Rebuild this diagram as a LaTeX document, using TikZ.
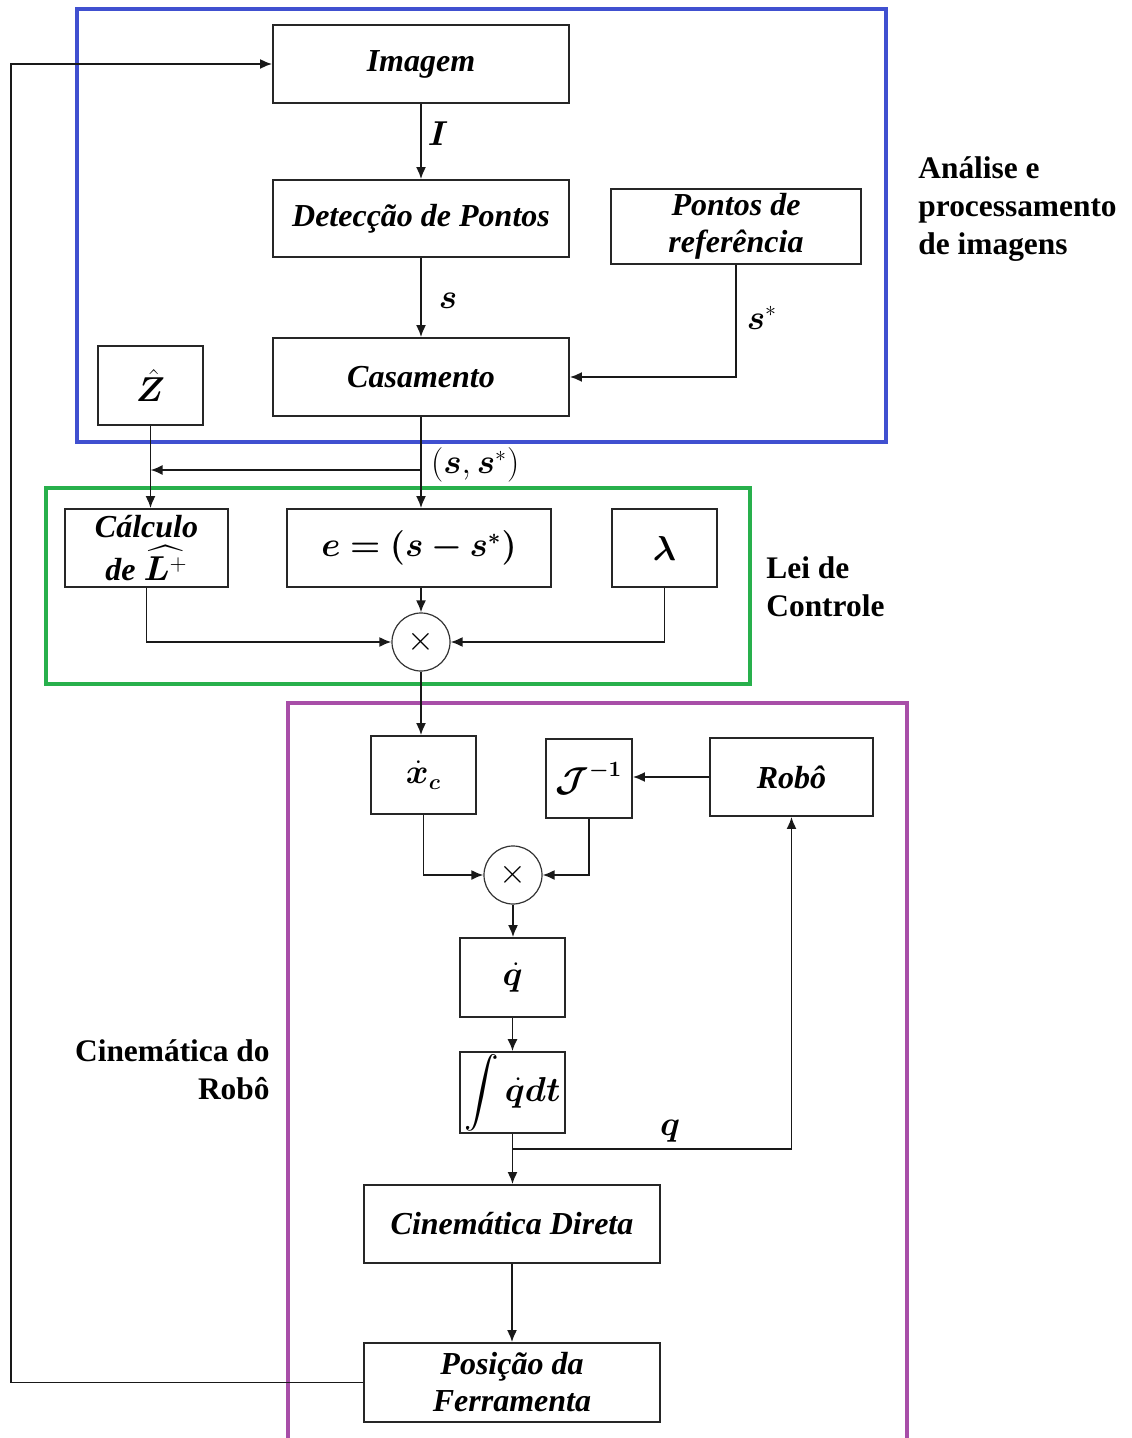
\documentclass[tikz,border=0pt]{standalone}
\usepackage{amsmath}
\usepackage{bm}
\usepackage{fontspec}
\setmainfont{Liberation Serif}
\usetikzlibrary{arrows.meta,calc}

\definecolor{frameblue}{RGB}{64,80,208}
\definecolor{framegreen}{RGB}{40,176,76}
\definecolor{framepurple}{RGB}{168,78,168}

\tikzset{
  block/.style={draw=black!85, line width=0.9pt, fill=white, inner sep=1pt,
    align=center, font=\fontsize{16}{18.5}\selectfont\bfseries\itshape},
  mult/.style={circle, draw=black!80, line width=0.6pt, minimum size=29pt, inner sep=0pt,
    font=\fontsize{16}{18}\selectfont},
  conn/.style={draw=black!90, line width=0.9pt, -{Latex[length=6pt,width=5pt]}},
  wire/.style={draw=black!90, line width=0.9pt},
  sig/.style={font=\fontsize{16}{18}\selectfont},
  region/.style={font=\fontsize{15.7}{19}\selectfont\bfseries, inner sep=0pt},
  frame/.style={line width=2pt}
}

\begin{document}
\begin{tikzpicture}[x=0.5pt,y=-0.5pt]
\useasboundingbox (0,0) rectangle (1131,1438);

% group frames
\draw[frame, frameblue] (77,9) rectangle (886,442);
\draw[frame, framegreen] (46,488) rectangle (750,684);
\draw[frame, framepurple] (288,1440) -- (288,703) -- (907,703) -- (907,1440);

% image analysis blocks
\node[block, minimum width=148pt, minimum height=39pt] (img) at (421,64) {Imagem};
\node[block, minimum width=148pt, minimum height=38.5pt] (det) at (421,218.5) {Detecção de Pontos};
\node[block, minimum width=125pt, minimum height=37.5pt] (ref) at (736,226.5) {Pontos de\\referência};
\node[block, minimum width=148pt, minimum height=39pt] (cas) at (421,377) {Casamento};
\node[block, minimum width=52.5pt, minimum height=39.5pt] (zh) at (150.5,385.5) {$\hat{\bm{Z}}$};

% control law blocks
\node[block, minimum width=81.5pt, minimum height=39pt] (calc) at (146.5,548) {Cálculo\\[3pt]de $\widehat{\bm{L}^{+}}$};
\node[block, minimum width=132pt, minimum height=39pt] (err) at (419,548) {$\bm{e = (s - s^{*})}$};
\node[block, minimum width=52.5pt, minimum height=39pt] (lam) at (664.5,548) {$\bm{\lambda}$};
\node[mult] (mul1) at (421,642) {$\times$};

% robot kinematics blocks
\node[block, minimum width=52.5pt, minimum height=39pt] (xc) at (423.5,775) {$\dot{\bm{x}}_{\bm{c}}$};
\node[block, minimum width=43pt, minimum height=39.5pt] (jinv) at (589,778.5) {$\bm{\mathcal{J}^{-1}}$};
\node[block, minimum width=81.5pt, minimum height=39pt] (robo) at (791.5,777) {Robô};
\node[mult] (mul2) at (513,875) {$\times$};
\node[block, minimum width=52.5pt, minimum height=39.5pt] (qd) at (512.5,977.5) {$\dot{\bm{q}}$};
\node[block, minimum width=52.5pt, minimum height=39.5pt] (intg) at (512.5,1092.5) {$\displaystyle\int\dot{\bm{q}}\bm{dt}$};
\node[block, minimum width=148pt, minimum height=39pt] (cd) at (512,1224) {Cinemática Direta};
\node[block, minimum width=148pt, minimum height=39.5pt] (pos) at (512,1382.5) {Posição da\\Ferramenta};

% junction points
\coordinate (br1) at (421,470);
\coordinate (br2) at (513,1149);
\coordinate (fb) at (11,1382.5);

% image processing chain
\draw[conn] (img.south) -- (det.north);
\node[sig] (lblI) at (438,134) {$\bm{I}$};
\draw[conn] (det.south) -- (cas.north);
\node[sig] (lbls) at (448,301) {$\bm{s}$};
\draw[conn] (ref.south) |- (cas.east);
\node[sig] (lblsr) at (762,318) {$\bm{s}^{*}$};
\draw[conn] (cas.south) -- (cas.south |- err.north);
\draw[conn] (br1) -- (br1 -| zh.south);
\node[sig, anchor=west] (lblpair) at (424,465) {$(\bm{s},\bm{s}^{*})$};
\draw[conn] (zh.south) -- (zh.south |- calc.north);

% control law
\draw[conn] (calc.south) |- (mul1.west);
\draw[conn] (mul1.north |- err.south) -- (mul1.north);
\draw[conn] (lam.south) |- (mul1.east);
\draw[conn] (mul1.south) -- (mul1.south |- xc.north);

% robot kinematics
\draw[conn] (xc.south) |- (mul2.west);
\draw[conn] (jinv.south) |- (mul2.east);
\draw[conn] (robo.west) -- (robo.west -| jinv.east);
\draw[conn] (mul2.south) -- (mul2.south |- qd.north);
\draw[conn] (qd.south) -- (intg.north);
\draw[conn] (intg.south) -- (intg.south |- cd.north);
\draw[conn] (br2) -| (robo.south);
\node[sig] (lblq) at (670,1131) {$\bm{q}$};
\draw[conn] (cd.south) -- (pos.north);

% tool position fed back to the image
\draw[wire] (pos.west) -- (fb);
\draw[conn] (fb) |- (img.west);

% group captions
\node[region, anchor=west, align=left] (capimg) at (918,209) {Análise e\\processamento\\de imagens};
\node[region, anchor=west, align=left] (capctl) at (766,587) {Lei de\\Controle};
\node[region, anchor=east, align=right] (caprob) at (270,1070) {Cinemática do\\Robô};
\end{tikzpicture}
\end{document}
